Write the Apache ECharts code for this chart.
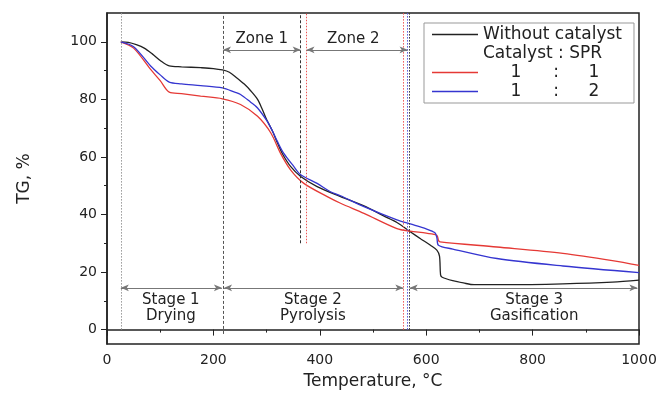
<!DOCTYPE html>
<html>
<head>
<meta charset="utf-8">
<script src="https://cdn.jsdelivr.net/npm/echarts@6/dist/echarts.min.js"></script>
<style>
  html, body { margin: 0; padding: 0; background: #fff; }
  #chart { width: 660px; height: 395px; }
</style>
</head>
<body>
<div id="chart"></div>
<script>
// TG curves, [temperature °C, TG %]
const noCatalyst = [
  [26, 100], [40, 99.8], [55, 99], [70, 97.8], [85, 95.8], [100, 93.5], [117, 91.6],
  [140, 91.3], [176, 91], [200, 90.7], [217, 90.2], [230, 89.4], [243, 87.6], [258, 85.3],
  [270, 83], [283, 80], [292, 76.5], [300, 73], [311, 69], [320, 65], [330, 61],
  [345, 56.7], [364, 53.2], [395, 49.7], [439, 46.2], [483, 43], [520, 39.5], [545, 37.2],
  [570, 34], [590, 31.5], [608, 29.3], [620, 27.6], [625, 25.5], [627, 19], [630, 18.2],
  [650, 17], [670, 16.2], [690, 15.6], [750, 15.6], [857, 15.9], [950, 16.5], [1000, 17.2]
];
const ratio11 = [
  [26, 100], [50, 97.8], [82, 90.4], [100, 86.5], [117, 82.5], [140, 82], [176, 81.1],
  [217, 80.2], [251, 78.2], [283, 74.1], [308, 68.3], [326, 61.3], [345, 55.5], [370, 50.8],
  [414, 46.2], [439, 43.9], [483, 40.4], [545, 35.1], [570, 34.2], [600, 33.5], [620, 32.8],
  [623, 31], [626, 30.5], [733, 28.7], [857, 26.5], [950, 24], [1000, 22.3]
];
const ratio12 = [
  [26, 100], [50, 98.3], [82, 91.6], [100, 88.5], [117, 86], [140, 85.4], [176, 84.8],
  [217, 84], [240, 82.5], [251, 81.7], [270, 79], [283, 77], [301, 72.4], [311, 69],
  [320, 65.5], [332, 61.3], [351, 56.7], [364, 53.8], [395, 50.8], [420, 47.9], [439, 46.5],
  [483, 42.7], [545, 38.1], [570, 36.7], [600, 35], [616, 33.7], [620, 32], [623, 29.3],
  [650, 28], [733, 24.7], [857, 22.1], [1000, 19.8]
];

const seriesNames = ['Without catalyst', 'Catalyst : SPR', '1 : 1', '1 : 2'];

// axis ticks
const yTicks = [0, 20, 40, 60, 80, 100];
const yMinorTicks = [10, 30, 50, 70, 90];

// guide lines (temperature, TG where line ends at bottom)
const guideTemps = [26, 218, 364, 375, 557, 565, 569];
const guideBottoms = [0, -1.5, 30, 30, 0, 0, 0];

// arrows: [from, to]
const zoneArrows = [[218, 364], [375, 565]];
const stageArrows = [[26, 216], [220, 557], [569, 997]];
const zoneArrowTG = 97.2;
const stageArrowTG = 14.5;

// annotation text anchors: [temperature, TG, text]
const zoneTexts = [[291, 100.9, 'Zone 1'], [463, 100.9, 'Zone 2']];
const stageTexts = [[120, 7.5, 'Stage 1\nDrying'], [387, 7.5, 'Stage 2\nPyrolysis'], [803, 7.5, 'Stage 3\nGasification']];

const FONT = 'DejaVu Sans';
const guideStyles = [
  { color: '#999', type: [1.5, 1.5] },
  { color: '#555', type: [3, 2] },
  { color: '#333', type: [3, 2] },
  { color: '#e55', type: [1.5, 1.5] },
  { color: '#e55', type: [1.5, 1.5] },
  { color: '#55d', type: [1.5, 1.5] },
  { color: '#333', type: [1.5, 1.5] }
];

const chart = echarts.init(document.getElementById('chart'));

const arrowLine = (pairs, tg) => pairs.map(p => [{ coord: [p[0], tg] }, { coord: [p[1], tg] }]);

chart.setOption({
  animation: false,
  grid: { left: 107, right: 21, top: 13, bottom: 51, show: true, borderColor: '#222', borderWidth: 1.5 },
  legend: {
    data: seriesNames.map((n, i) => ({ name: n, icon: i === 1 ? 'none' : 'rect' })),
    orient: 'vertical',
    left: 424, top: 23,
    padding: [3, 12, 3, 8],
    itemGap: 2,
    itemWidth: 46, itemHeight: 1.3,
    borderColor: '#999', borderWidth: 1,
    textStyle: {
      fontFamily: FONT, fontSize: 17, color: '#222',
      rich: {
        a: { fontFamily: FONT, fontSize: 17, color: '#222', width: 66, align: 'center' },
        b: { fontFamily: FONT, fontSize: 17, color: '#222', width: 14, align: 'center' },
        c: { fontFamily: FONT, fontSize: 17, color: '#222', width: 62, align: 'center' }
      }
    },
    formatter: name => {
      if (!/^\d/.test(name)) return name;
      const [p, q] = name.split(' : ');
      return `{a|${p}}{b|:}{c|${q}}`;
    }
  },
  xAxis: {
    type: 'value', min: 0, max: 1000, interval: 200,
    name: 'Temperature, °C', nameLocation: 'middle', nameGap: 29,
    nameTextStyle: { fontFamily: FONT, fontSize: 17, color: '#222' },
    axisLine: { lineStyle: { color: '#222', width: 1.5 } },
    axisTick: { length: 6, lineStyle: { color: '#222' } },
    minorTick: { show: true, splitNumber: 2, length: 3, lineStyle: { color: '#222' } },
    axisLabel: { fontFamily: FONT, fontSize: 14, color: '#222', margin: 9, formatter: v => String(v) },
    splitLine: { show: false }
  },
  yAxis: [{
    type: 'value', min: -5, max: 110,
    name: 'TG, %', nameLocation: 'middle', nameGap: 74,
    nameTextStyle: { fontFamily: FONT, fontSize: 17, color: '#222' },
    axisLine: { lineStyle: { color: '#222', width: 1.5 } },
    axisTick: { length: 6, customValues: yTicks, lineStyle: { color: '#222' } },
    axisLabel: { fontFamily: FONT, fontSize: 14, color: '#222', margin: 10, customValues: yTicks },
    splitLine: { show: false }
  }, {
    type: 'value', min: -5, max: 110, position: 'left',
    axisLine: { show: false },
    axisTick: { length: 3, customValues: yMinorTicks, lineStyle: { color: '#222' } },
    axisLabel: { show: false },
    splitLine: { show: false }
  }],
  series: [
    {
      name: seriesNames[0], type: 'line', data: noCatalyst, symbol: 'none', smooth: 0.3,
      lineStyle: { color: '#222', width: 1.3 }, itemStyle: { color: '#222' }, z: 3
    },
    {
      name: seriesNames[1], type: 'line', data: [], symbol: 'none',
      lineStyle: { opacity: 0 }, itemStyle: { opacity: 0 }
    },
    {
      name: seriesNames[2], type: 'line', data: ratio11, symbol: 'none', smooth: 0.3,
      lineStyle: { color: '#e53935', width: 1.3 }, itemStyle: { color: '#e53935' }
    },
    {
      name: seriesNames[3], type: 'line', data: ratio12, symbol: 'none', smooth: 0.3,
      lineStyle: { color: '#3535d0', width: 1.3 }, itemStyle: { color: '#3535d0' }
    },
    {
      // guides, arrows and notes
      name: 'notes', type: 'line', data: [], silent: true,
      markLine: {
        silent: true, animation: false,
        label: { show: false },
        data: [
          ...guideTemps.map((t, i) => [
            { coord: [t, guideBottoms[i]], symbol: 'none', lineStyle: { width: 1, ...guideStyles[i] } },
            { coord: [t, 110], symbol: 'none' }
          ]),
          ...arrowLine(zoneArrows, zoneArrowTG).concat(arrowLine(stageArrows, stageArrowTG)).map(seg => [
            { ...seg[0], symbol: 'arrow', symbolSize: [5, 8], lineStyle: { color: '#777', width: 1, type: 'solid' } },
            { ...seg[1], symbol: 'arrow', symbolSize: [5, 8] }
          ])
        ]
      },
      markPoint: {
        silent: true, animation: false,
        symbol: 'circle', symbolSize: 0,
        label: {
          show: true, position: 'inside', fontFamily: FONT, fontSize: 15, color: '#222',
          lineHeight: 16, formatter: p => p.name
        },
        data: zoneTexts.concat(stageTexts).map(d => ({ name: d[2], coord: [d[0], d[1]] }))
      }
    }
  ]
});
</script>
</body>
</html>
